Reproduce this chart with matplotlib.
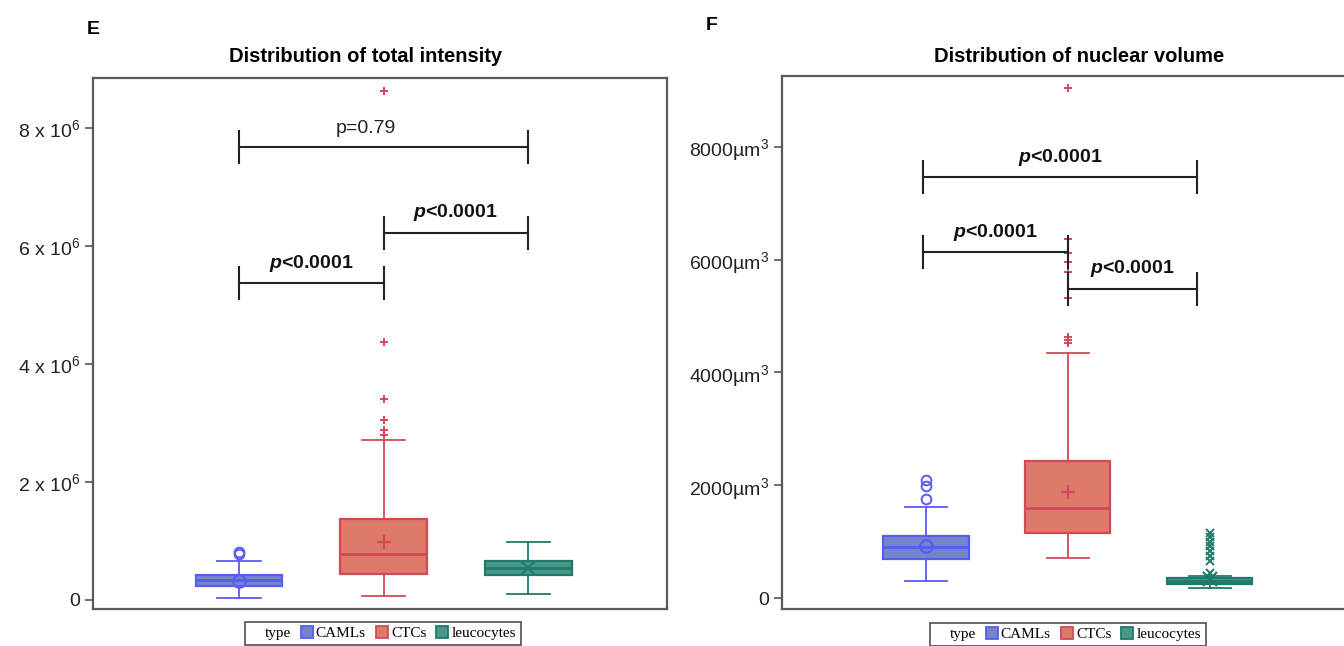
import matplotlib
matplotlib.use("Agg")
import matplotlib.pyplot as plt
from matplotlib.lines import Line2D

plt.rcParams['font.family'] = ['Liberation Sans', 'DejaVu Sans']
plt.rcParams['mathtext.fontset'] = 'custom'
plt.rcParams['mathtext.rm'] = 'Liberation Sans'
plt.rcParams['mathtext.bfit'] = 'Liberation Sans:italic:bold'
plt.rcParams['mathtext.default'] = 'regular'

# ---- data ----
cell_types = ['CAMLs', 'CTCs', 'leucocytes']

# panel E : total intensity
int_q1 = [0.24e6, 0.44e6, 0.42e6]
int_med = [0.34e6, 0.78e6, 0.54e6]
int_q3 = [0.42e6, 1.37e6, 0.66e6]
int_lo = [0.03e6, 0.07e6, 0.10e6]
int_hi = [0.66e6, 2.71e6, 0.98e6]
int_mean = [0.33e6, 0.98e6, 0.55e6]
int_fliers = [[0.78e6, 0.81e6],
              [2.80e6, 2.88e6, 3.05e6, 3.41e6, 4.37e6, 8.63e6],
              []]
int_ticks = [0, 2e6, 4e6, 6e6, 8e6]
int_ticklabels = ['0', '2 x 10$^{6}$', '4 x 10$^{6}$', '6 x 10$^{6}$', '8 x 10$^{6}$']
int_brackets = [(1.0, 3.0, 7.68e6, 'p=0.79'),
                (2.0, 3.0, 6.22e6, 'p<0.0001'),
                (1.0, 2.0, 5.37e6, 'p<0.0001')]

# panel F : nuclear volume
vol_q1 = [690, 1150, 250]
vol_med = [900, 1600, 300]
vol_q3 = [1100, 2430, 350]
vol_lo = [300, 710, 180]
vol_hi = [1610, 4340, 390]
vol_mean = [920, 1880, 340]
vol_fliers = [[1750, 1990, 2090],
              [4520, 4570, 4630, 5320, 5780, 5960, 6120, 6365, 9040],
              [440, 650, 740, 830, 920, 1000, 1080, 1150]]
vol_ticks = [0, 2000, 4000, 6000, 8000]
vol_ticklabels = ['0', '2000\u00b5m$^{3}$', '4000\u00b5m$^{3}$', '6000\u00b5m$^{3}$', '8000\u00b5m$^{3}$']
vol_brackets = [(0.98, 2.91, 7460, 'p<0.0001'),
                (0.98, 2.0, 6130, 'p<0.0001'),
                (2.0, 2.91, 5480, 'p<0.0001')]

# ---- styles ----
edge_colors = ['#5a5af5', '#d24a58', '#1f7a6a']
fill_colors = ['#7585cc', '#de7a6a', '#4a978a']
mean_markers = ['o', '+', 'x']
flier_markers = ['o', '+', 'x']

W, H = 1344, 646
fig = plt.figure(figsize=(W / 100, H / 100), dpi=100)


def draw_panel(ax, q1, med, q3, lo, hi, mean, fliers, ylim, xlim):
    for i in range(len(cell_types)):
        stats = [dict(q1=q1[i], med=med[i], q3=q3[i], whislo=lo[i],
                      whishi=hi[i], mean=mean[i], fliers=fliers[i])]
        ec = edge_colors[i]
        open_m = mean_markers[i] == 'o'
        ax.bxp(stats, positions=[i + 1], widths=0.6, patch_artist=True,
               showmeans=True, manage_ticks=False,
               boxprops=dict(facecolor=fill_colors[i], edgecolor=ec, linewidth=1.6),
               medianprops=dict(color=ec, linewidth=2),
               whiskerprops=dict(color=ec, linewidth=1.3),
               capprops=dict(color=ec, linewidth=1.3),
               meanprops=dict(marker=mean_markers[i], markersize=9 if open_m else 10,
                              markerfacecolor='none', markeredgecolor=ec,
                              markeredgewidth=1.6),
               flierprops=dict(marker=flier_markers[i], markersize=7 if open_m else 6,
                               markerfacecolor='none', markeredgecolor=ec,
                               markeredgewidth=1.4, linestyle='none'))
    ax.set_xlim(*xlim)
    ax.set_ylim(*ylim)
    ax.set_xticks([])
    for s in ax.spines.values():
        s.set_color('#5a5a5a')
        s.set_linewidth(1.6)
    ax.tick_params(axis='y', direction='out', length=6, width=1.2,
                   color='#555555', labelsize=14, labelcolor='#222222', pad=3)


def draw_brackets(ax, brackets, ylim, bold_flags, text_dx):
    half = (ylim[1] - ylim[0]) * 16 / 531
    for (x0, x1, y, label), bold, dx in zip(brackets, bold_flags, text_dx):
        ax.plot([x0, x1], [y, y], color='#222222', lw=1.5)
        ax.plot([x0, x0], [y - half, y + half], color='#222222', lw=1.5)
        ax.plot([x1, x1], [y - half, y + half], color='#222222', lw=1.5)
        if bold:
            txt = r'$\mathbfit{p}$' + label[1:]
            ax.annotate(txt, xy=((x0 + x1) / 2 + dx, y), xytext=(0, 7),
                        textcoords='offset points', ha='center', va='bottom',
                        fontsize=14, fontweight='bold', color='#111111')
        else:
            ax.annotate(label, xy=((x0 + x1) / 2 + dx, y), xytext=(0, 7),
                        textcoords='offset points', ha='center', va='bottom',
                        fontsize=14, color='#222222')


def add_legend(ax, cx, top):
    handles = [Line2D([], [], linestyle='none', marker=None)]
    labels = ['type']
    for i, name in enumerate(cell_types):
        handles.append(Line2D([], [], linestyle='none', marker='s', markersize=8,
                              markerfacecolor=fill_colors[i],
                              markeredgecolor=edge_colors[i], markeredgewidth=1.3))
        labels.append(name)
    leg = ax.legend(handles, labels, ncol=4, loc='upper center',
                    bbox_to_anchor=(cx / W, 1 - top / H), bbox_transform=fig.transFigure,
                    frameon=True, fancybox=False, borderaxespad=0,
                    handlelength=0.7, handletextpad=0.25, columnspacing=0.7,
                    borderpad=0.3, prop=dict(family='Liberation Serif', size=11))
    leg.get_frame().set_edgecolor('#222222')
    leg.get_frame().set_linewidth(1.2)


# ---- panel E ----
ylim_e = (-0.153e6, 8.85e6)
ax1 = fig.add_axes([93 / W, 1 - 609 / H, 574 / W, 531 / H])
draw_panel(ax1, int_q1, int_med, int_q3, int_lo, int_hi, int_mean, int_fliers,
           ylim_e, (-0.01, 3.96))
ax1.set_yticks(int_ticks)
ax1.set_yticklabels(int_ticklabels)
draw_brackets(ax1, int_brackets, ylim_e, [False, True, True], [-0.12, 0, 0])
add_legend(ax1, 383, 622)

# ---- panel F ----
ylim_f = (-195, 9255)
ax2 = fig.add_axes([782 / W, 1 - 609 / H, 574 / W, 533 / H])
draw_panel(ax2, vol_q1, vol_med, vol_q3, vol_lo, vol_hi, vol_mean, vol_fliers,
           ylim_f, (-0.014, 4.03))
ax2.set_yticks(vol_ticks)
ax2.set_yticklabels(vol_ticklabels)
draw_brackets(ax2, vol_brackets, ylim_f, [True, True, True], [0, 0, 0])
add_legend(ax2, 1068, 623)

# titles and panel letters
fig.text(366 / W, 1 - 57 / H, 'Distribution of total intensity', ha='center', va='center',
         fontsize=14.5, fontweight='bold')
fig.text(1079 / W, 1 - 57 / H, 'Distribution of nuclear volume', ha='center', va='center',
         fontsize=14.5, fontweight='bold')
fig.text(87 / W, 1 - 30 / H, 'E', ha='left', va='center', fontsize=14, fontweight='bold')
fig.text(706 / W, 1 - 25 / H, 'F', ha='left', va='center', fontsize=14, fontweight='bold')

fig.savefig('out.png', dpi=100, facecolor='white')
